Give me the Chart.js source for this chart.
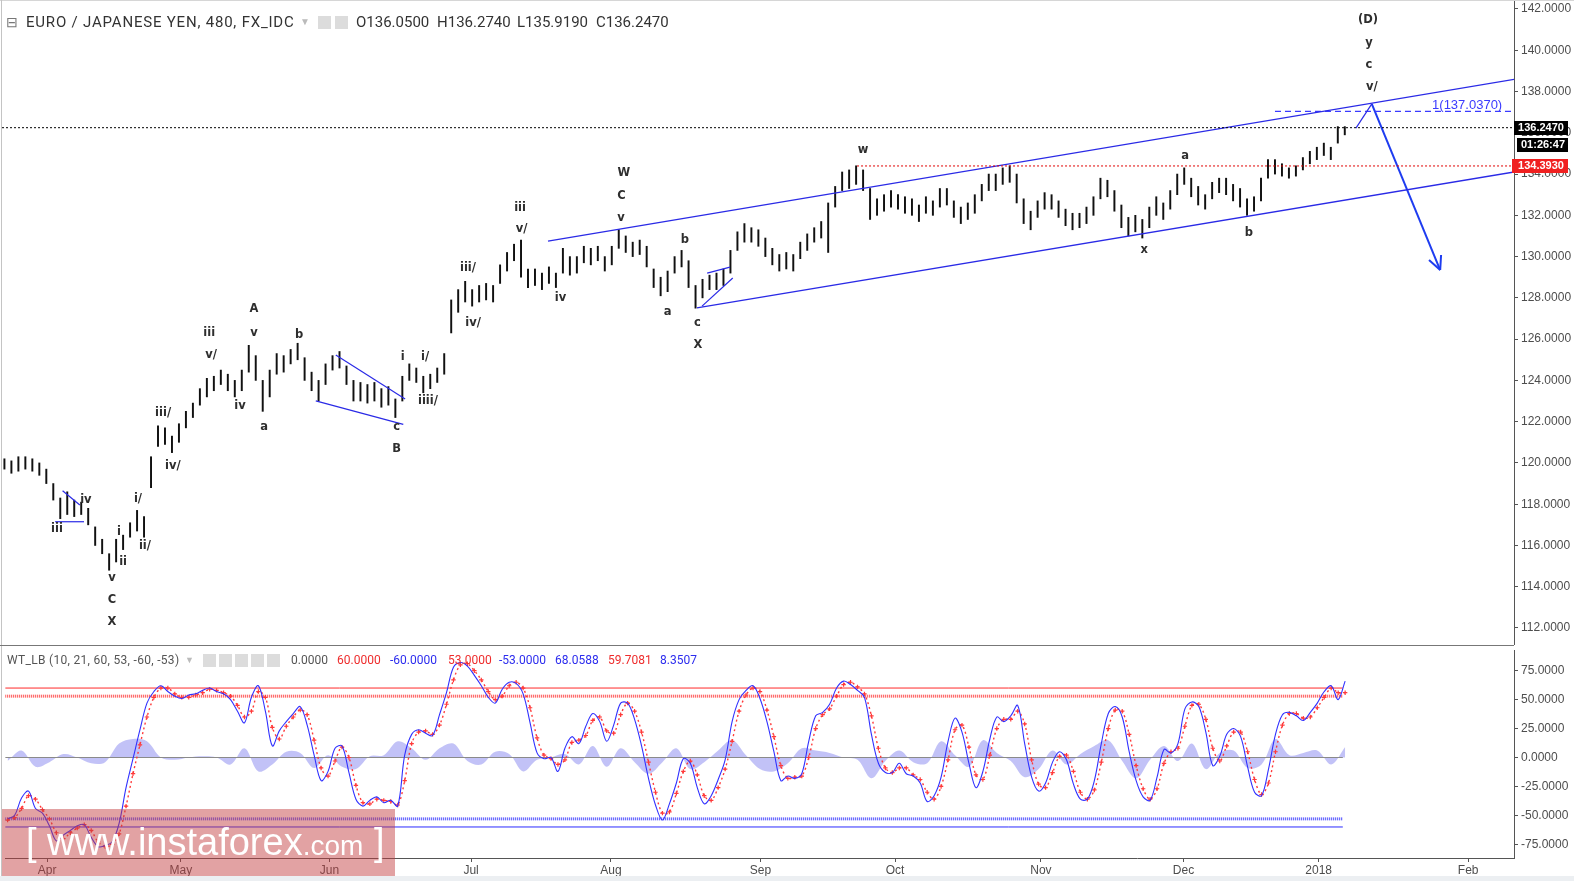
<!DOCTYPE html>
<html>
<head>
<meta charset="utf-8">
<title>EUR/JPY 480</title>
<script src="https://cdn.jsdelivr.net/npm/chart.js@4.4.1/dist/chart.umd.min.js"></script>
<style>
  html, body { margin: 0; padding: 0; background: #fff; }
  body { position: relative; width: 1574px; height: 881px; overflow: hidden; font-family: Roboto, "Liberation Sans", sans-serif; }
  canvas { position: absolute; left: 0; }
  #priceChart { top: 0; }
  #oscChart { top: 645px; }
  .abs { position: absolute; white-space: nowrap; }
  #sep { left: 0; top: 645px; width: 1514px; height: 1px; background: #777; }
  #topline { left: 0; top: 0; width: 1574px; height: 1px; background: #d6d6d6; }
  #leftline { left: 1px; top: 0; width: 1px; height: 876px; background: #c4c4c4; }
  #foot { left: 0; top: 876px; width: 1574px; height: 5px; background: #eceff2; }
  .hdr { top: 13px; font-size: 15px; line-height: 18px; color: #333; }
  .osc { top: 652px; font-size: 12px; line-height: 16px; color: #555; }
  .btn { position: absolute; width: 13px; height: 13px; background: #dcdcdc; }
  #wm { left: 2px; top: 809px; width: 393px; height: 67px; background: rgba(195, 60, 62, 0.48); }
  #wm span.t { position: absolute; left: 24px; top: 12px; color: #fff; font-family: "Liberation Sans", sans-serif; font-size: 38px; white-space: nowrap; }
  #wm small { font-size: 28px; }
</style>
</head>
<body>
<canvas id="priceChart" width="1574" height="645"></canvas>
<canvas id="oscChart" width="1574" height="236"></canvas>
<div class="abs" id="topline"></div>
<div class="abs" id="leftline"></div>
<div class="abs" id="sep"></div>
<div class="abs" id="foot"></div>

<div class="abs hdr" style="left:6px;color:#777;font-size:14px">⊟</div>
<div class="abs hdr" style="left:26px;letter-spacing:0.8px">EURO / JAPANESE YEN, 480, FX_IDC</div>
<div class="abs hdr" style="left:300px;color:#bbb;font-size:10px">▼</div>
<div class="btn" style="left:318px;top:16px"></div>
<div class="btn" style="left:335px;top:16px"></div>
<div class="abs hdr" style="left:356px">O136.0500</div>
<div class="abs hdr" style="left:437px">H136.2740</div>
<div class="abs hdr" style="left:517px">L135.9190</div>
<div class="abs hdr" style="left:596px">C136.2470</div>

<div class="abs osc" style="left:7px;letter-spacing:0.3px">WT_LB (10, 21, 60, 53, -60, -53)</div>
<div class="abs osc" style="left:185px;color:#bbb;font-size:9px">▼</div>
<div class="btn" style="left:203px;top:654px"></div>
<div class="btn" style="left:219px;top:654px"></div>
<div class="btn" style="left:235px;top:654px"></div>
<div class="btn" style="left:251px;top:654px"></div>
<div class="btn" style="left:267px;top:654px"></div>
<div class="abs osc" style="left:291px">0.0000</div>
<div class="abs osc" style="left:337px;color:#ee2c2c">60.0000</div>
<div class="abs osc" style="left:390px;color:#2c2cee">-60.0000</div>
<div class="abs osc" style="left:448px;color:#ee2c2c">53.0000</div>
<div class="abs osc" style="left:499px;color:#2c2cee">-53.0000</div>
<div class="abs osc" style="left:555px;color:#2c2cee">68.0588</div>
<div class="abs osc" style="left:608px;color:#ee2c2c">59.7081</div>
<div class="abs osc" style="left:660px;color:#2c2cee">8.3507</div>

<div class="abs" id="wm"><span class="t">[ www.instaforex<small>.com</small> ]</span></div>

<script>
// day 0 = 1 Apr 2017; one bar every 1.5 days
const BAR_START = -8.5;
const BAR_STEP = 1.5;
const X_MIN = -9.02;
const X_MAX = 315.86;

const lows = [
  119.7, 119.5, 119.6, 119.7, 119.6, 119.4, 119.0, 118.2, 117.3, 117.5,
  117.4, 117.5, 117.0, 116.0, 115.6, 114.8, 115.2, 115.8, 116.4, 116.7,
  116.4, 118.8, 120.8, 120.9, 120.5, 121.0, 121.7, 122.2, 122.8, 123.2,
  123.5, 123.8, 123.5, 123.2, 123.5, 124.4, 124.0, 122.5, 123.2, 124.3,
  124.4, 124.8, 125.0, 124.0, 123.5, 123.0, 123.8, 124.5, 124.6, 123.8,
  123.0, 123.0, 122.9, 123.0, 122.7, 122.8, 122.2, 123.0, 124.0, 123.9,
  123.4, 123.6, 123.9, 124.3, 126.3, 127.3, 127.8, 127.6, 127.8, 127.9,
  127.8, 128.7, 129.3, 129.8, 129.0, 128.5, 128.6, 128.4, 128.7, 128.5,
  129.2, 129.1, 129.2, 129.7, 129.6, 129.8, 129.3, 129.6, 130.4, 130.2,
  130.0, 130.1, 129.5, 128.5, 128.1, 128.3, 129.2, 129.5, 128.5, 127.5,
  128.0, 128.4, 128.4, 128.6, 129.2, 130.3, 130.7, 130.7, 130.5, 130.0,
  129.6, 129.3, 129.4, 129.3, 129.9, 130.3, 130.7, 130.9, 130.2, 132.4,
  133.2, 133.3, 133.5, 133.2, 131.8, 132.0, 132.2, 132.4, 132.3, 132.1,
  132.0, 131.7, 132.1, 132.0, 132.4, 132.5, 131.9, 131.6, 131.8, 132.1,
  132.7, 133.2, 133.2, 133.5, 133.6, 132.6, 131.6, 131.3, 131.9, 132.3,
  132.3, 131.9, 131.5, 131.3, 131.4, 131.6, 132.0, 132.8, 132.9, 132.2,
  131.4, 131.0, 131.2, 130.9, 131.4, 132.0, 131.8, 132.3, 133.0, 133.5,
  132.9, 132.5, 132.3, 132.8, 133.1, 133.0, 132.7, 132.4, 132.0, 132.2,
  132.7, 133.8, 134.0, 133.9, 133.8, 133.9, 134.2, 134.5, 134.7, 134.9,
  134.7, 135.5, 135.9
];
const highs = [
  120.2, 120.1, 120.3, 120.3, 120.2, 120.0, 119.7, 119.0, 118.3, 118.6,
  118.2, 118.1, 117.8, 116.9, 116.3, 115.6, 116.3, 116.5, 117.1, 117.7,
  117.4, 120.3, 121.8, 121.7, 121.3, 121.9, 122.5, 122.9, 123.6, 124.1,
  124.2, 124.5, 124.3, 124.0, 124.5, 125.7, 125.2, 124.0, 124.5, 125.3,
  125.2, 125.5, 125.8, 125.1, 124.4, 124.0, 124.8, 125.2, 125.4, 124.7,
  124.0, 123.9, 123.8, 123.9, 123.6, 123.7, 123.1, 124.2, 124.8, 124.6,
  124.2, 124.3, 124.6, 125.3, 127.9, 128.4, 128.8, 128.4, 128.6, 128.7,
  128.6, 129.6, 130.2, 130.6, 130.8, 129.4, 129.4, 129.2, 129.5, 129.2,
  130.4, 130.0, 130.0, 130.5, 130.4, 130.5, 130.0, 130.5, 131.3, 131.0,
  130.7, 130.8, 130.5, 129.4, 129.0, 129.3, 130.0, 130.3, 129.8, 128.6,
  128.9, 129.1, 129.2, 129.4, 130.3, 131.2, 131.6, 131.4, 131.3, 130.9,
  130.4, 130.1, 130.2, 130.1, 130.7, 131.1, 131.4, 131.7, 132.6, 133.4,
  134.1, 134.2, 134.4, 134.2, 133.3, 132.8, 133.0, 133.2, 133.0, 132.9,
  132.8, 132.5, 132.9, 132.7, 133.3, 133.3, 132.7, 132.4, 132.6, 133.0,
  133.5, 134.0, 134.0, 134.3, 134.4, 134.0, 132.8, 132.2, 132.7, 133.1,
  133.0, 132.7, 132.3, 132.1, 132.1, 132.4, 132.9, 133.8, 133.7, 133.2,
  132.5, 131.9, 132.0, 131.8, 132.4, 132.9, 132.6, 133.2, 134.0, 134.3,
  133.8, 133.4, 133.0, 133.6, 133.8, 133.8, 133.5, 133.3, 132.8, 132.9,
  133.8, 134.7, 134.7, 134.5, 134.3, 134.4, 134.8, 135.1, 135.3, 135.5,
  135.3, 136.3, 136.3
];

// WT_LB oscillator, same 1.5-day grid
const wt1 = [
  -53, -50, -35, -29, -44, -48, -59, -72, -67, -63,
  -59, -58, -69, -77, -76, -73, -57, -26, -1, 24,
  47, 57, 62, 57, 53, 51, 54, 55, 58, 60,
  57, 55, 50, 40, 30, 52, 62, 40, 10, 23,
  31, 38, 44, 28, 2, -20, -12, 8, 10, -13,
  -36, -42, -37, -34, -39, -37, -42, 2, 20, 24,
  21, 19, 37, 56, 78, 82, 79, 71, 62, 52,
  47, 59, 65, 64, 55, 30, 4, -1, 0, -12,
  8, 18, 12, 27, 38, 31, 14, 28, 47, 47,
  33, 10, -18, -41, -54, -40, -22, -1, -5, -26,
  -40, -33, -19, -2, 31, 50, 58, 62, 51, 31,
  5, -20, -16, -18, -14, 14, 36, 39, 46, 60,
  66, 63, 58, 52, 20, -5, -13, -13, -5, -14,
  -16, -22, -38, -33, -17, 14, 34, 22, -5, -26,
  -12, 16, 35, 31, 36, 45, 12, -17, -29, -22,
  -4, 5, -2, -23, -36, -36, -20, 12, 38, 44,
  35, 5, -20, -34, -37, -17, 7, 4, 12, 42,
  48, 44, 22, -7, 1, 20, 25, 18, -8, -30,
  -33, -10, 20, 37, 39, 36, 32, 39, 47, 57,
  62, 50, 66
];
const wt2 = [
  -54, -52, -44, -33, -36, -45, -53, -65, -70, -65,
  -61, -58, -63, -73, -77, -75, -66, -42, -14, 11,
  35, 52, 60, 60, 55, 52, 52, 54, 56, 59,
  58, 56, 53, 45, 35, 40, 57, 52, 26, 16,
  27, 35, 41, 37, 15, -9, -16, -3, 9, 0,
  -24, -39, -40, -36, -37, -38, -41, -20, 12, 22,
  23, 20, 28, 46, 67, 80, 81, 75, 67, 57,
  50, 53, 62, 65, 60, 43, 17, 2, -1, -6,
  -2, 13, 15, 19, 32, 35, 23, 21, 37, 47,
  40, 22, -4, -30, -48, -47, -31, -12, -3, -15,
  -33, -37, -26, -10, 14, 40, 54, 60, 57, 41,
  18, -7, -18, -17, -16, 0, 25, 37, 42, 53,
  63, 65, 61, 55, 36, 8, -9, -13, -9, -9,
  -15, -19, -30, -36, -25, -2, 24, 28, 9, -15,
  -19, 2, 25, 33, 33, 40, 29, -2, -23, -26,
  -13, 1, 2, -12, -30, -36, -28, -4, 25, 41,
  40, 20, -7, -27, -36, -27, -5, 5, 8, 27,
  45, 46, 33, 8, -3, 10, 22, 22, 5, -19,
  -32, -22, 5, 28, 38, 38, 34, 35, 43, 52,
  60, 56, 56
];
// histogram, one value every 3 days
const HIST_START = -8.5;
const HIST_STEP = 3;
const wtHist = [
  -3, 6, -8, -4, 3, 0, -5, -4, 12, 16,
  14, 0, -2, 0, 1, 0, -6, 8, -12, -6,
  5, 4, -9, 2, -8, -10, 1, 2, 14, 8,
  -2, 8, 12, -3, -6, 5, 3, -12, -2, 0,
  3, -6, 10, -8, 8, -4, -14, -4, 8, -10,
  -4, 6, 15, 2, -10, -12, -5, 8, 6, 4,
  0, -2, -18, -3, 6, -4, -5, 14, 2, -8,
  15, 4, -3, -17, -10, 6, -6, 3, 10, 15,
  -3, -18, -2, 10, -3, 12, -10, 4, 6, -9,
  -6, 16, 2, 4, 6, -6, 9
];
const OSC_END = 279;

const priceTicks = [112, 114, 116, 118, 120, 122, 124, 126, 128, 130, 132, 134, 136, 138, 140, 142];
const oscTicks = [-75, -50, -25, 0, 25, 50, 75];
const monthDays = [0, 28.8, 60.8, 91.3, 121.4, 153.6, 182.6, 214.0, 244.7, 273.8, 306.0];
const monthLabels = ["Apr", "May", "Jun", "Jul", "Aug", "Sep", "Oct", "Nov", "Dec", "2018", "Feb"];

const lastClose = 136.247;
const swingHigh = 134.393;
const fibTarget = 137.037;

// drawn lines, [day, price]
const upperChannel = [[108.3, 130.75], [315.9, 138.59]];
const lowerChannel = [[140.3, 127.51], [315.9, 134.10]];
const triTop = [[4.0, 118.65], [7.7, 117.96]];
const triBottom = [[2.4, 117.15], [8.6, 117.15]];
const wedgeTop = [[62.7, 125.23], [77.6, 123.10]];
const wedgeBottom = [[58.4, 123.01], [77.2, 121.87]];
const flagTop = [[142.5, 129.20], [147.4, 129.49]];
const flagBottom = [[141.4, 127.60], [148.0, 128.96]];
const projection = [[281.9, 136.23], [285.3, 137.40]];
const arrowPath = [[285.3, 137.40], [300.0, 129.35]];
const fibLine = [[264.5, fibTarget], [315.9, fibTarget]];
const highLine = [[174.7, swingHigh], [X_MAX, swingHigh]];
const closeLine = [[X_MIN, lastClose], [X_MAX, lastClose]];

const waveLabels = [
  ["iii", 2.8, 116.79], ["iv", 9.0, 118.20], ["v", 14.6, 114.42], ["C", 14.6, 113.35], ["X", 14.6, 112.29],
  ["i", 16.1, 116.65], ["ii", 17.0, 115.19], ["i/", 20.2, 118.25], ["ii/", 21.7, 115.97],
  ["iii/", 25.6, 122.42], ["iv/", 27.7, 119.85], ["iii", 35.5, 126.29], ["v/", 35.9, 125.23],
  ["iv", 42.1, 122.76], ["A", 45.1, 127.46], ["v", 45.1, 126.29], ["a", 47.3, 121.74], ["b", 54.8, 126.20],
  ["c", 75.8, 121.74], ["B", 75.8, 120.67], ["i", 77.1, 125.13], ["i/", 81.9, 125.13], ["iiii/", 82.5, 123.00],
  ["iii/", 91.1, 129.45], ["iv/", 92.2, 126.78], ["iii", 102.3, 132.35], ["v/", 102.6, 131.34], ["iv", 111.0, 127.99],
  ["W", 124.6, 134.05], ["C", 124.1, 132.94], ["v", 124.0, 131.87], ["a", 134.0, 127.31], ["b", 137.7, 130.80],
  ["c", 140.4, 126.78], ["X", 140.5, 125.71], ["w", 176.0, 135.17], ["x", 236.4, 130.32], ["a", 245.2, 134.87],
  ["b", 258.9, 131.14], ["(D)", 284.5, 141.47], ["y", 284.7, 140.35], ["c", 284.7, 139.29], ["v/", 285.3, 138.22]
];

Chart.defaults.font.family = "'Liberation Sans', Arial, sans-serif";

const BLUE = "#2a2ae6";
const pts = (arr) => arr.map(([x, y]) => ({ x, y }));
const series = (vals, start, step) => vals.map((v, i) => ({ x: start + step * i, y: v }));
const lineSet = (arr, color, width, extra) => Object.assign({
  type: "line", data: pts(arr), borderColor: color, borderWidth: width,
  pointRadius: 0, fill: false, tension: 0
}, extra || {});

const axisStyle = {
  grid: { drawOnChartArea: false, drawTicks: true, tickLength: 4, color: "#555" },
  border: { display: true, color: "#555" }
};

const overlay = {
  id: "overlay",
  afterDatasetsDraw(chart) {
    const { ctx, scales: { x, y } } = chart;
    ctx.save();
    ctx.fillStyle = "#2e2e2e";
    ctx.font = "bold 11.5px 'DejaVu Sans', sans-serif";
    ctx.textAlign = "center";
    ctx.textBaseline = "middle";
    waveLabels.forEach(([t, d, p]) => ctx.fillText(t, x.getPixelForValue(d), y.getPixelForValue(p)));

    // arrow head
    const idx = chart.data.datasets.findIndex((d) => d.label === "arrow");
    const m = chart.getDatasetMeta(idx).data;
    const a = m[0], b = m[1];
    const ang = Math.atan2(b.y - a.y, b.x - a.x);
    ctx.strokeStyle = "#1e3cf0";
    ctx.lineWidth = 2;
    ctx.beginPath();
    [-0.45, 0.45].forEach((s) => {
      ctx.moveTo(b.x, b.y);
      ctx.lineTo(b.x - 15 * Math.cos(ang + s), b.y - 15 * Math.sin(ang + s));
    });
    ctx.stroke();

    // fib label
    ctx.fillStyle = "#3a3aff";
    ctx.font = "13px 'Liberation Sans', sans-serif";
    ctx.textAlign = "right";
    ctx.textBaseline = "bottom";
    ctx.fillText("1(137.0370)", x.getPixelForValue(fibLine[1][0]) - 12, y.getPixelForValue(fibTarget) + 1);
    ctx.restore();
  },
  afterDraw(chart) {
    const { ctx, chartArea, scales: { y } } = chart;
    const left = chartArea.right;
    ctx.save();
    ctx.font = "bold 11px 'Liberation Sans', sans-serif";
    ctx.textAlign = "center";
    ctx.textBaseline = "middle";
    const yc = Math.round(y.getPixelForValue(lastClose));
    ctx.fillStyle = "#000";
    ctx.fillRect(left, yc - 7, 54, 14);
    ctx.fillRect(left + 3, yc + 10, 51, 14);
    ctx.fillStyle = "#fff";
    ctx.fillText("136.2470", left + 27, yc);
    ctx.fillText("01:26:47", left + 29, yc + 17);
    const yr = Math.round(y.getPixelForValue(swingHigh));
    ctx.fillStyle = "#f02020";
    ctx.fillRect(left - 2, yr - 7, 56, 14);
    ctx.fillStyle = "#fff";
    ctx.fillText("134.3930", left + 27, yr);
    ctx.restore();
  }
};

new Chart(document.getElementById("priceChart"), {
  type: "bar",
  data: {
    datasets: [
      lineSet(closeLine, "#000", 1, { borderDash: [2, 2] }),
      lineSet(highLine, "#e00000", 1, { borderDash: [2, 2] }),
      lineSet(upperChannel, BLUE, 1.3),
      lineSet(lowerChannel, BLUE, 1.3),
      lineSet(triTop, BLUE, 1.2),
      lineSet(triBottom, BLUE, 1.2),
      lineSet(wedgeTop, BLUE, 1.2),
      lineSet(wedgeBottom, BLUE, 1.2),
      lineSet(flagTop, BLUE, 1.2),
      lineSet(flagBottom, BLUE, 1.2),
      lineSet(projection, BLUE, 1.2),
      lineSet(fibLine, "#3a3aff", 1.3, { borderDash: [6, 4] }),
      lineSet(arrowPath, "#1e3cf0", 2, { label: "arrow" }),
      {
        type: "bar",
        data: lows.map((lo, i) => ({ x: BAR_START + BAR_STEP * i, y: [lo, highs[i]] })),
        backgroundColor: "#111",
        barThickness: 1.3,
        order: 5
      }
    ]
  },
  options: {
    responsive: false,
    animation: false,
    events: [],
    layout: { padding: { left: 2, right: 0, top: 0, bottom: 0 } },
    plugins: { legend: { display: false }, tooltip: { enabled: false } },
    scales: {
      x: { type: "linear", min: X_MIN, max: X_MAX, offset: false, display: false },
      y: Object.assign({
        position: "right", min: 111.176, max: 142.436, beginAtZero: false,
        afterBuildTicks: (s) => { s.ticks = priceTicks.map((v) => ({ value: v })); },
        afterFit: (s) => { s.width = 60; s.paddingTop = 0; s.paddingBottom = 0; },
        ticks: { color: "#4d4d4d", font: { size: 12 }, padding: 3, callback: (v) => v.toFixed(4) }
      }, axisStyle)
    }
  },
  plugins: [overlay]
});

const level = (v, color, width, dash) => lineSet([[X_MIN, v], [OSC_END, v]], color, width, { borderDash: dash || [], order: 2 });

new Chart(document.getElementById("oscChart"), {
  type: "line",
  data: {
    datasets: [
      {
        data: series(wt1, BAR_START, BAR_STEP),
        borderColor: "#3030ff", borderWidth: 1.1, pointRadius: 0, tension: 0.35, order: 0
      },
      {
        data: series(wt2, BAR_START, BAR_STEP),
        borderColor: "#ff3a3a", borderWidth: 1.4, borderDash: [2, 3], tension: 0.35,
        pointStyle: "cross", pointRadius: 2.2, pointBorderColor: "#ff3a3a", pointBorderWidth: 1.2, order: 1
      },
      level(60, "#ff2a2a", 1),
      level(53, "#ff4a4a", 3, [1, 1]),
      level(0, "#8a8a8a", 1.2),
      level(-53, "#4a4aff", 3, [1, 1]),
      level(-60, "#2a2aff", 1),
      {
        data: series(wtHist, HIST_START, HIST_STEP),
        borderWidth: 0, borderColor: "rgba(0,0,0,0)", backgroundColor: "rgba(110,110,235,0.42)",
        fill: "origin", pointRadius: 0, tension: 0.35, order: 3
      }
    ]
  },
  options: {
    responsive: false,
    animation: false,
    events: [],
    layout: { padding: { left: 2, right: 0, top: 0, bottom: 0 } },
    plugins: { legend: { display: false }, tooltip: { enabled: false } },
    scales: {
      x: Object.assign({
        type: "linear", min: X_MIN, max: X_MAX, offset: false,
        afterBuildTicks: (s) => { s.ticks = monthDays.map((v) => ({ value: v })); },
        afterFit: (s) => { s.height = 23; s.paddingLeft = 0; s.paddingRight = 0; },
        ticks: { autoSkip: false, maxRotation: 0, color: "#4d4d4d", font: { size: 12 }, padding: 1,
          callback: (v, i) => monthLabels[i] }
      }, axisStyle),
      y: Object.assign({
        position: "right", min: -86.8, max: 92.7,
        afterBuildTicks: (s) => { s.ticks = oscTicks.map((v) => ({ value: v })); },
        afterFit: (s) => { s.width = 60; s.paddingTop = 0; s.paddingBottom = 0; },
        ticks: { color: "#4d4d4d", font: { size: 12 }, padding: 3, callback: (v) => v.toFixed(4) }
      }, axisStyle)
    }
  }
});
</script>
</body>
</html>
